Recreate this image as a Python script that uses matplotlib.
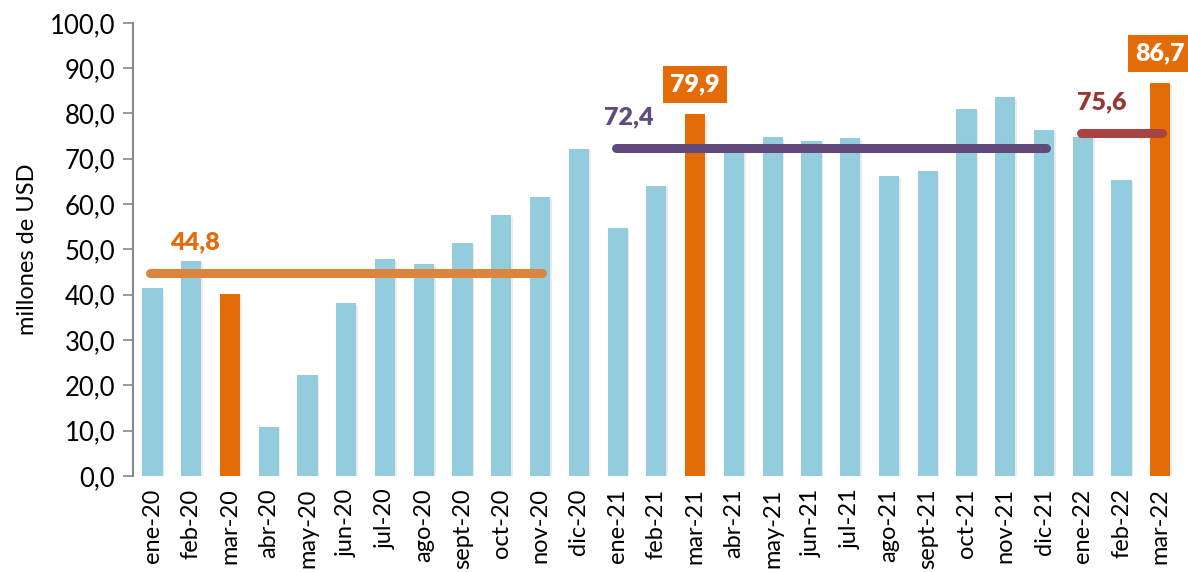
import matplotlib
matplotlib.use("Agg")
import matplotlib.pyplot as plt
import matplotlib.patheffects as pe

plt.rcParams['font.family'] = ['Lato', 'DejaVu Sans']

months = ["ene-20", "feb-20", "mar-20", "abr-20", "may-20", "jun-20", "jul-20",
          "ago-20", "sept-20", "oct-20", "nov-20", "dic-20",
          "ene-21", "feb-21", "mar-21", "abr-21", "may-21", "jun-21", "jul-21",
          "ago-21", "sept-21", "oct-21", "nov-21", "dic-21",
          "ene-22", "feb-22", "mar-22"]
values = [41.5, 47.5, 40.2, 10.9, 22.3, 38.1, 47.8, 46.8, 51.4, 57.6, 61.6, 72.2,
          54.7, 64.1, 79.9, 72.0, 74.7, 73.9, 74.6, 66.1, 67.4, 80.9, 83.6, 76.4,
          74.9, 65.3, 86.7]
highlight = ["mar-20", "mar-21", "mar-22"]
boxed = ["mar-21", "mar-22"]

avg_labels = ["44,8", "72,4", "75,6"]
avg_values = [44.8, 72.4, 75.6]
avg_start = ["ene-20", "ene-21", "ene-22"]
avg_end = ["nov-20", "dic-21", "mar-22"]
avg_colors = ["#DC853F", "#604A7B", "#A84442"]
avg_text_colors = ["#E46C0A", "#5F4B7E", "#953735"]

blue = "#93CDDD"
orange = "#E36C09"

fig = plt.figure(figsize=(11.88, 5.72), dpi=100)
ax = fig.add_axes([0.112, 0.168, 0.881, 0.792])

x = list(range(len(months)))
colors = [orange if m in highlight else blue for m in months]
bars = ax.bar(x, values, width=0.52, color=colors, zorder=2)
for b in bars:
    b.set_path_effects([pe.SimplePatchShadow(offset=(1.2, -1.2), shadow_rgbFace="#c8c8c8", alpha=0.35),
                        pe.Normal()])

# average lines
label_dx = [1.1, 0.3, 0.5]
for lab, v, s, e, c, tc, dx in zip(avg_labels, avg_values, avg_start, avg_end,
                                   avg_colors, avg_text_colors, label_dx):
    i0 = months.index(s)
    i1 = months.index(e)
    ax.plot([i0 - 0.05, i1 + 0.05], [v, v], color=c, lw=6.5, solid_capstyle='round', zorder=3)
    ax.text(i0 + dx, v + 6.8, lab, color=tc,
            fontsize=18, fontweight='heavy', ha='center', va='center', zorder=4)

# boxed value labels
for m in boxed:
    i = months.index(m)
    v = values[i]
    ax.text(i, v + 6.5, f"{v:.1f}".replace('.', ','), color='white', fontsize=18,
            fontweight='heavy', ha='center', va='center', zorder=5,
            bbox=dict(boxstyle='square,pad=0.3', fc=orange, ec='none'))

ax.set_xlim(-0.5, 26.5)
ax.set_ylim(0, 100)
ax.set_yticks(range(0, 101, 10))
ax.set_yticklabels([f"{t},0" for t in range(0, 101, 10)], fontsize=18.5)
ax.set_xticks(x)
ax.set_xticklabels(months, rotation=90, fontsize=17)
ax.tick_params(axis='x', length=0, pad=9)
ax.tick_params(axis='y', length=7, color='#888888', width=1.2, direction='out', pad=6)
for s in ['top', 'right', 'bottom']:
    ax.spines[s].set_visible(False)
ax.spines['left'].set_color('#888888')
ax.spines['left'].set_linewidth(1.5)
ax.set_ylabel("millones de USD", fontsize=17, labelpad=8)

fig.savefig("out.png", dpi=100)
